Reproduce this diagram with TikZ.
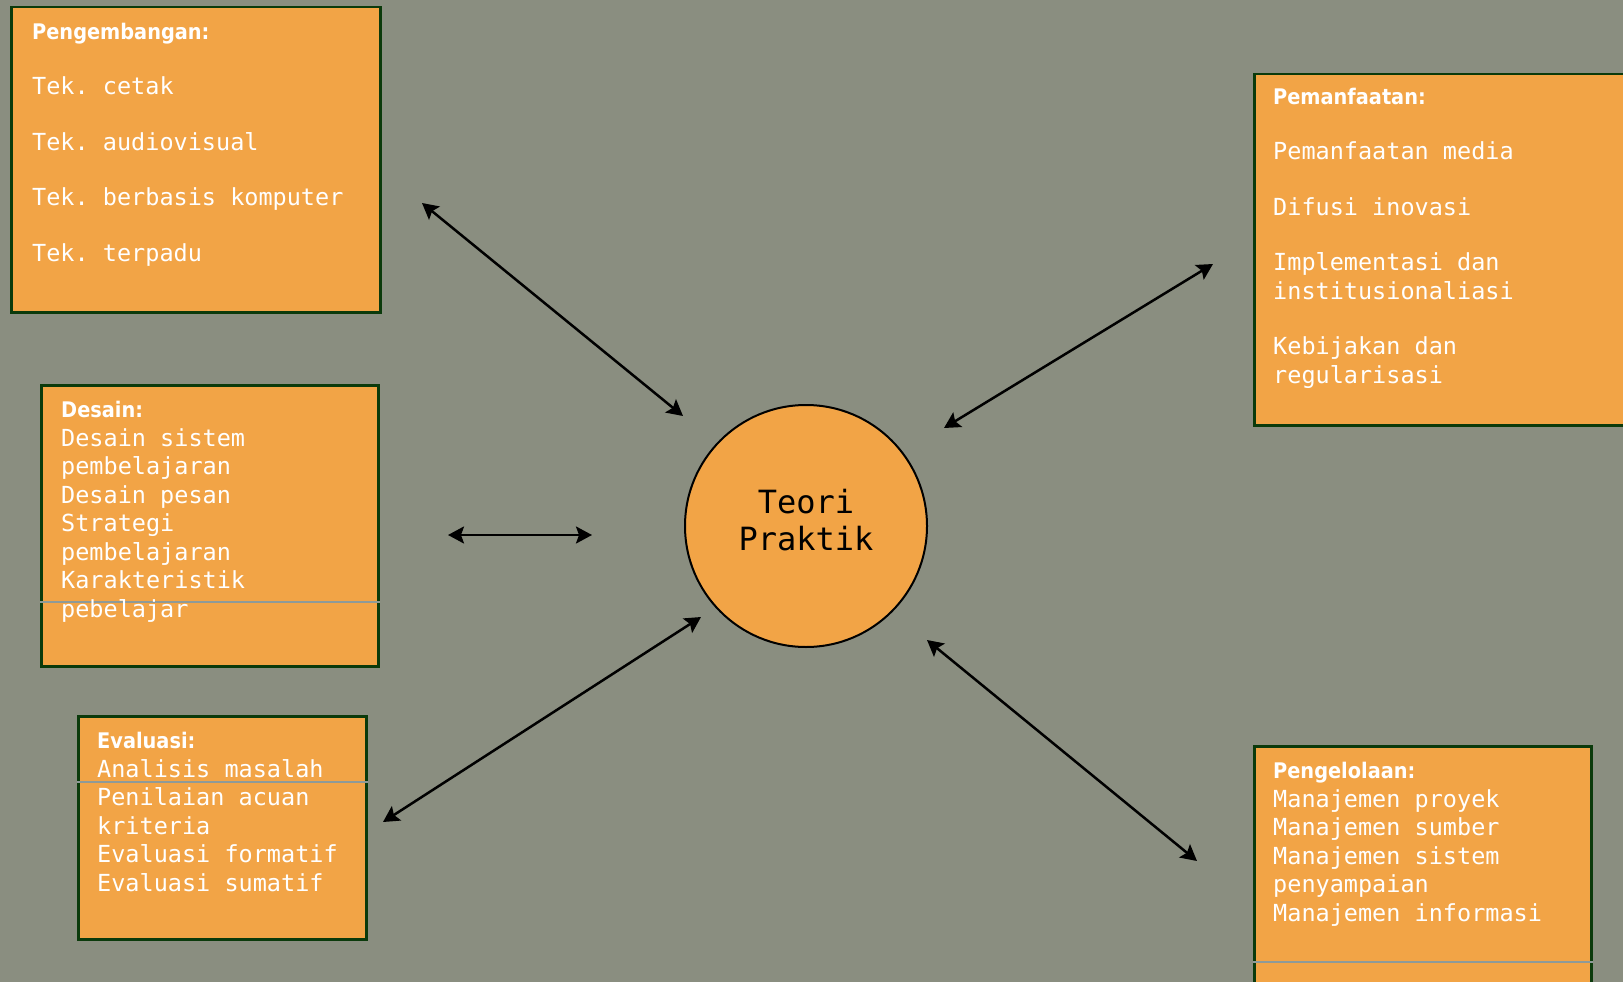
\documentclass[tikz,border=0pt]{standalone}
\usepackage{fontspec}
\setmainfont{DejaVu Sans}
\setsansfont{DejaVu Sans}
\setmonofont{DejaVu Sans Mono}
\newfontfamily\judulfont{DejaVu Sans Condensed}
\usetikzlibrary{arrows.meta}
\definecolor{latar}{HTML}{8A8E80}
\definecolor{oranye}{HTML}{F2A446}
\definecolor{hijautua}{HTML}{0B3A0B}
\definecolor{garisabu}{HTML}{8E9A98}
\tikzset{
  kotak/.style={draw=hijautua, line width=2.5pt, fill=oranye, anchor=north west, inner sep=0pt},
  isi/.style={anchor=base west, inner sep=0pt, align=left, text=white,
    font=\fontsize{23.5}{28.5}\selectfont\ttfamily},
  panah/.style={{Stealth[length=16pt,width=17pt,inset=3pt]}-{Stealth[length=16pt,width=17pt,inset=3pt]},
    line width=2.5pt, black},
  pemisah/.style={draw=garisabu, line width=1.5pt}
}
\newcommand{\judul}[1]{{\judulfont\bfseries\fontsize{21.5}{28.5}\selectfont #1}}
\begin{document}
\begin{tikzpicture}[x=1pt,y=-1pt]
  \clip (0,0) rectangle (1623,982);
  \fill[latar] (0,0) rectangle (1623,982);
  % kotak-kotak kawasan
  \node[kotak, minimum width=369pt, minimum height=305pt] (pengembangan) at (10,6) {};
  \node[kotak, minimum width=337pt, minimum height=281pt] (desain) at (40,384) {};
  \node[kotak, minimum width=288pt, minimum height=223pt] (evaluasi) at (77,715) {};
  \node[kotak, minimum width=387pt, minimum height=351pt] (pemanfaatan) at (1253,73) {};
  \node[kotak, minimum width=337pt, minimum height=260pt] (pengelolaan) at (1253,745) {};
  \draw[pemisah] (desain.west |- 0,602) -- (desain.east |- 0,602);
  \draw[pemisah] (evaluasi.west |- 0,782) -- (evaluasi.east |- 0,782);
  \draw[pemisah] (pengelolaan.west |- 0,962) -- (pengelolaan.east |- 0,962);
  % isi kotak (titik = garis dasar baris terakhir)
  \node[isi] (pengembangan-isi) at (32,261) {\judul{Pengembangan:}\\[27pt]
    Tek. cetak\\[27pt] Tek. audiovisual\\[27pt] Tek. berbasis komputer\\[27pt] Tek. terpadu};
  \node[isi] (desain-isi) at (61,617) {\judul{Desain:}\\ Desain sistem\\ pembelajaran\\
    Desain pesan\\ Strategi\\ pembelajaran\\ Karakteristik\\ pebelajar};
  \node[isi] (evaluasi-isi) at (97,891) {\judul{Evaluasi:}\\ Analisis masalah\\
    Penilaian acuan\\ kriteria\\ Evaluasi formatif\\ Evaluasi sumatif};
  \node[isi] (pemanfaatan-isi) at (1273,383) {\judul{Pemanfaatan:}\\[27pt]
    Pemanfaatan media\\[27pt] Difusi inovasi\\[27pt] Implementasi dan\\ institusionaliasi\\[27pt]
    Kebijakan dan\\ regularisasi};
  \node[isi] (pengelolaan-isi) at (1273,921) {\judul{Pengelolaan:}\\ Manajemen proyek\\
    Manajemen sumber\\ Manajemen sistem\\ penyampaian\\ Manajemen informasi};
  % lingkaran tengah
  \node[circle, draw=black, line width=2pt, fill=oranye, minimum size=242pt, inner sep=0pt] (teori) at (806,526) {};
  \node[align=center, inner sep=0pt, font=\fontsize{32}{37}\selectfont\ttfamily]
    (teori-teks) at ([yshift=6pt]teori.center) {Teori\\Praktik};
  % ujung panah
  \coordinate (p1a) at (422,203); \coordinate (p1b) at (683,416);
  \coordinate (p2a) at (448,535); \coordinate (p2b) at (592,535);
  \coordinate (p3a) at (383,822); \coordinate (p3b) at (701,617);
  \coordinate (p4a) at (944,428); \coordinate (p4b) at (1213,264);
  \coordinate (p5a) at (927,640); \coordinate (p5b) at (1197,861);
  \draw[panah] (p1a) -- (p1b);
  \draw[panah] (p2a) -- (p2b);
  \draw[panah] (p3a) -- (p3b);
  \draw[panah] (p4a) -- (p4b);
  \draw[panah] (p5a) -- (p5b);
\end{tikzpicture}
\end{document}
